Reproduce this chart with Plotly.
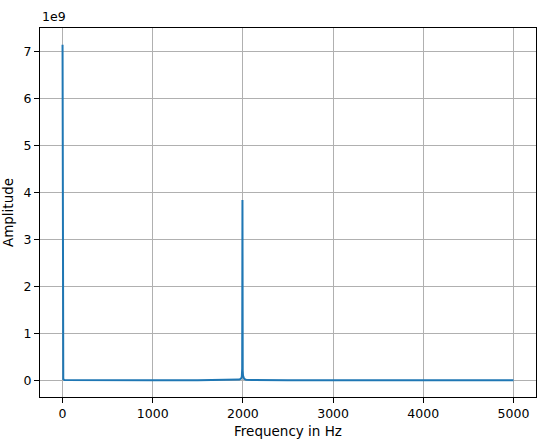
import plotly.graph_objects as go

# amplitude spectrum
freq_hz = [0, 3, 8, 20, 300, 1000, 1500, 1900, 1960, 1980, 1988, 1992, 1995, 1998, 2001, 2006, 2015, 2035, 2100, 2500, 3000, 4000, 5000]
amplitude = [7.15e9, 0.9e9, 0.02e9, 0.006e9, 0.002e9, 0.001e9, 0.002e9, 0.005e9, 0.015e9, 0.035e9, 0.08e9, 0.25e9, 3.84e9, 0.2e9, 0.1e9, 0.05e9, 0.025e9, 0.012e9, 0.005e9, 0.002e9, 0.001e9, 0.001e9, 0.001e9]

x_ticks = [0, 1000, 2000, 3000, 4000, 5000]
y_ticks = [0, 1e9, 2e9, 3e9, 4e9, 5e9, 6e9, 7e9]
y_labels = ["0", "1", "2", "3", "4", "5", "6", "7"]

fig = go.Figure()
fig.add_trace(go.Scatter(x=freq_hz, y=amplitude, mode="lines",
                         line=dict(color="#1f77b4", width=2), showlegend=False))

ymax = max(amplitude)
fig.update_layout(
    width=546, height=442,
    margin=dict(l=40, r=10, t=28, b=45),
    paper_bgcolor="white", plot_bgcolor="white",
    font=dict(family="DejaVu Sans", size=12.5, color="black"),
)
fig.update_xaxes(
    range=[-250, 5250], tickvals=x_ticks, automargin=False,
    showgrid=True, gridcolor="#b0b0b0", gridwidth=1,
    showline=True, linecolor="black", linewidth=1, mirror=True,
    ticks="outside", ticklen=5, tickcolor="black", zeroline=False,
    title=dict(text="Frequency in Hz", standoff=6, font=dict(size=13.5)),
)
fig.update_yaxes(
    range=[-0.05 * ymax, 1.05 * ymax], tickvals=y_ticks, ticktext=y_labels,
    automargin=False,
    showgrid=True, gridcolor="#b0b0b0", gridwidth=1,
    showline=True, linecolor="black", linewidth=1, mirror=True,
    ticks="outside", ticklen=5, tickcolor="black", zeroline=False,
    title=dict(text="Amplitude", standoff=8, font=dict(size=13.5)),
)
fig.add_annotation(text="1e9", xref="paper", yref="paper", x=0, y=1,
                   xanchor="left", yanchor="bottom", showarrow=False, yshift=2)

# drop the browser's default body margin so the figure sits at the page corner
fig.write_html("out.html", config={"displayModeBar": False},
               post_script="document.body.style.margin='0';")
